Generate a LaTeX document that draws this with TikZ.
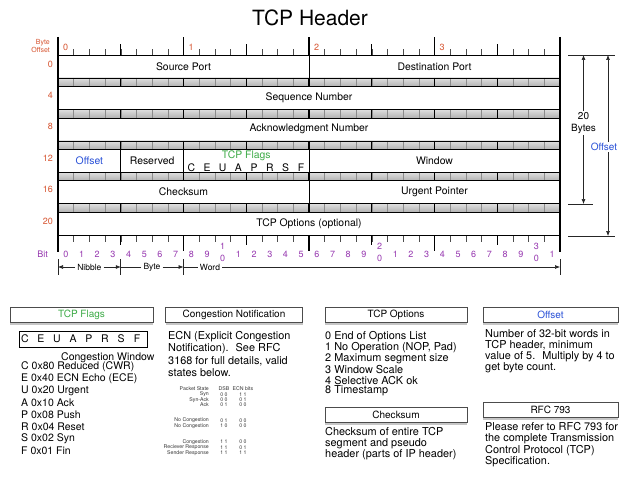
\documentclass[tikz,border=0pt]{standalone}
\usepackage{fontspec}
\setmainfont{TeX Gyre Heros}
\setsansfont{TeX Gyre Heros}
\usetikzlibrary{arrows.meta, positioning, shadows}

\definecolor{rojooffset}{RGB}{214,84,48}
\definecolor{moradobit}{RGB}{150,55,175}
\definecolor{verdeflags}{RGB}{60,170,70}
\definecolor{azuloffset}{RGB}{40,80,215}

\begin{document}
\begin{tikzpicture}[
    x=1pt, y=-1pt,
    >={Latex[length=5pt,width=4pt]},
    font=\sffamily,
    every node/.style={font=\sffamily\fontsize{10}{12}\selectfont, inner sep=0pt},
    texto campo/.style={font=\sffamily\fontsize{10.4}{12}\selectfont},
    texto offset/.style={font=\sffamily\fontsize{9}{10}\selectfont, text=rojooffset},
    texto bit/.style={font=\sffamily\fontsize{9}{10}\selectfont, text=moradobit},
    texto pie/.style={font=\sffamily\fontsize{8.5}{10}\selectfont, fill=white, inner xsep=2pt},
    texto lista/.style={anchor=west, font=\sffamily\fontsize{10.5}{12}\selectfont},
    texto parrafo/.style={anchor=west, font=\sffamily\fontsize{10.9}{12}\selectfont},
    texto tabla/.style={font=\sffamily\fontsize{5.2}{6}\selectfont, text=black!80},
    borde grueso/.style={line width=2.6pt},
    marca nibble/.style={line width=1.4pt},
    marca byte/.style={line width=1.8pt},
    marca bit/.style={line width=0.5pt, draw=black!70},
    caja cabecera/.style={draw=black!70, fill=white, line width=0.6pt, minimum height=15pt,
        drop shadow={opacity=0.45, shadow xshift=0pt, shadow yshift=-2pt}},
    linea cota/.style={line width=0.6pt, draw=black!85},
    flecha cota/.style={line width=0.6pt, draw=black!85, ->}
]
\useasboundingbox (0,0) rectangle (620,489);

% ---- Titulo ----
\node[font=\sffamily\fontsize{21}{24}\selectfont] (titulo) at (310,18) {TCP Header};

% ---- Filas blancas ----
\foreach \r in {0,...,5} {
    \pgfmathsetmacro{\yt}{55+31.4*\r}
    \draw[line width=0.6pt] (58,\yt) rectangle (560,\yt+23);
}

% ---- Bandas grises entre filas ----
\foreach \r in {0,...,4} {
    \pgfmathsetmacro{\yb}{55+31.4*\r+23}
    \shade[top color=gray!25, bottom color=gray!60] (58,\yb) rectangle (560,\yb+8.4);
    \foreach \b in {1,...,31} \draw[marca bit, draw=black!45] ({58+15.6875*\b},\yb) -- ++(0,8.4);
    \foreach \b in {4,8,...,28} \draw[marca nibble] ({58+15.6875*\b},\yb) -- ++(0,8.4);
    \draw[line width=0.5pt] (58,\yb) -- (560,\yb);
    \draw[line width=0.5pt] (58,\yb+8.4) -- (560,\yb+8.4);
}

% ---- Regla superior ----
\foreach \b in {1,...,31} \draw[marca bit] ({58+15.6875*\b},55) -- ++(0,-6);
\foreach \b in {4,12,20,28} \draw[marca nibble] ({58+15.6875*\b},55) -- ++(0,-11);
\foreach \b in {8,16,24} \draw[marca byte] ({58+15.6875*\b},55) -- ++(0,-18);
\foreach \k in {0,...,3} \node[texto offset, anchor=west] (byte\k) at ({58+125.5*\k+5},47) {\k};

% ---- Regla inferior ----
\foreach \b in {1,...,31} \draw[marca bit] ({58+15.6875*\b},236) -- ++(0,6);
\foreach \b in {4,12,20,28} \draw[marca nibble] ({58+15.6875*\b},236) -- ++(0,9);
\foreach \b in {8,16,24} \draw[marca byte] ({58+15.6875*\b},236) -- ++(0,15);

% ---- Bordes ----
\draw[borde grueso] (58,37) -- (58,252);
\draw[borde grueso] (560,37) -- (560,252);

% ---- Byte offset ----
\node[texto offset, font=\sffamily\fontsize{7}{8.5}\selectfont, align=right, anchor=east] (byteoffset) at (50,46) {Byte\\Offset};
\foreach \r/\v in {0/0,1/4,2/8,3/12,4/16,5/20}
    \node[texto offset, anchor=east] (off\v) at (53,{55+31.4*\r+9}) {\v};

% ---- Divisiones de campos ----
\draw[line width=0.6pt] (309,55) -- (309,78);
\draw[line width=0.6pt] (120.75,149.2) -- (120.75,172.2);
\draw[line width=0.6pt] (183.5,149.2) -- (183.5,172.2);
\draw[line width=0.6pt] (309,149.2) -- (309,172.2);
\draw[line width=0.6pt] (309,180.6) -- (309,203.6);

% ---- Campos ----
\node[texto campo] (srcport) at (183.5,66.5) {Source Port};
\node[texto campo] (dstport) at (434.5,66.5) {Destination Port};
\node[texto campo] (seqnum) at (309,97.9) {Sequence Number};
\node[texto campo] (acknum) at (309,129.3) {Acknowledgment Number};
\node[texto campo, text=azuloffset] (offcampo) at (89.4,160.7) {Offset};
\node[texto campo] (reservado) at (152.1,160.7) {Reserved};
\node[texto campo, text=verdeflags] (flagstit) at (246.25,155.5) {TCP Flags};
\foreach \l [count=\i from 8] in {C,E,U,A,P,R,S,F}
    \node[texto campo] (bitflag\l) at ({58+15.6875*(\i+0.5)},167.5) {\l};
\node[texto campo] (ventana) at (434.5,160.7) {Window};
\node[texto campo] (checksum) at (183.5,192.1) {Checksum};
\node[texto campo] (urgente) at (434.5,192.1) {Urgent Pointer};
\node[texto campo] (opciones) at (309,223.5) {TCP Options (optional)};

% ---- Numeros de bit ----
\node[texto bit, anchor=east] (bitlab) at (48,254) {Bit};
\foreach \b in {0,...,31} {
    \pgfmathtruncatemacro{\u}{mod(\b,10)}
    \ifnum\u=0
        \ifnum\b=0 \node[texto bit] (bit\b) at ({58+15.6875*(\b+0.5)},254) {0};\fi
    \else
        \node[texto bit] (bit\b) at ({58+15.6875*(\b+0.5)},254) {\u};
    \fi
}
\foreach \b/\d in {10/1,20/2,30/3} {
    \node[texto bit] (bitd\b) at ({58+15.6875*(\b+0.5)},246) {\d};
    \node[texto bit] (bitu\b) at ({58+15.6875*(\b+0.5)},258.5) {0};
}

% ---- Nibble / Byte / Word ----
\coordinate (n0) at (58,267);
\coordinate (n1) at (120.75,267);
\coordinate (n2) at (183.5,267);
\coordinate (n3) at (560,267);
\foreach \c in {n0,n1,n2,n3} \draw[linea cota] (\c) ++(0,-8) -- ++(0,16);
\node[texto pie] (nibble) at (89.4,267) {Nibble};
\node[texto pie] (byte) at (152,267) {Byte};
\node[texto pie] (word) at (210,267) {Word};
\draw[flecha cota] (nibble) -- (n0);
\draw[flecha cota] (nibble) -- (n1);
\draw[linea cota] (byte) -- (n1);
\draw[flecha cota] (byte) -- (n2);
\draw[linea cota] (word) -- (n2);
\draw[flecha cota] (word) -- (n3);

% ---- Cotas de la derecha ----
\draw[linea cota] (568,55) -- (615,55);
\draw[linea cota] (568,204) -- (593,204);
\draw[linea cota] (568,236) -- (615,236);
\coordinate (asup) at (583.5,55);
\coordinate (ainf) at (583.5,204);
\coordinate (bsup) at (608,55);
\coordinate (binf) at (608,236);
\node[fill=white, align=center, inner sep=1pt] (veinte) at (583.5,123) {20\\Bytes};
\draw[flecha cota] (veinte) -- (asup);
\draw[flecha cota] (veinte) -- (ainf);
\node[fill=white, text=azuloffset, inner sep=1pt] (offcota) at (604,147) {Offset};
\draw[flecha cota] (offcota.north -| bsup) -- (bsup);
\draw[flecha cota] (offcota.south -| binf) -- (binf);

% ---- Cajas de cabecera inferiores ----
\node[caja cabecera, minimum width=143pt, text=verdeflags] (cabflags) at (81.5,315) {TCP Flags};
\node[caja cabecera, minimum width=137pt] (cabecn) at (234,315) {Congestion Notification};
\node[caja cabecera, minimum width=142pt] (cabopt) at (396,315) {TCP Options};
\node[caja cabecera, minimum width=135pt, text=azuloffset] (caboff) at (550.5,315) {Offset};
\node[caja cabecera, minimum width=142pt] (cabcheck) at (396,415) {Checksum};
\node[caja cabecera, minimum width=135pt] (cabrfc) at (550.5,410) {RFC 793};

% ---- TCP Flags ----
\node[draw, line width=0.9pt, minimum width=128pt, minimum height=16pt] (cajaletras) at (83,339) {};
\foreach \l [count=\i from 0] in {C,E,U,A,P,R,S,F}
    \node[font=\sffamily\fontsize{10.5}{12}\selectfont] (letra\i) at (25+16*\i,339) {\l};
\node[texto lista] (congwin) at (61,358) {Congestion Window};
\foreach \t [count=\i from 0] in {C 0x80 Reduced (CWR), E 0x40 ECN Echo (ECE), U 0x20 Urgent, A 0x10 Ack,
        P 0x08 Push, R 0x04 Reset, S 0x02 Syn, F 0x01 Fin}
    \node[texto lista] (flag\i) at (21,{367+11.94*\i}) {\t};

% ---- Congestion Notification ----
\foreach \t [count=\i from 0] in {ECN (Explicit Congestion, Notification).~ See RFC,
        {3168 for full details, valid}, states below.}
    \node[texto parrafo] (ecn\i) at (168,{337+12*\i}) {\t};
\foreach \y/\e/\d/\n [count=\i] in {389/Packet State/DSB/ECN bits, 394.5/Syn/0 0/1 1,
        399.7/Syn-Ack/0 0/0 1, 404.9/Ack/0 1/0 0, 420.6/No Congestion/0 1/0 0,
        425.9/No Congestion/1 0/0 0, 442/Congestion/1 1/0 0,
        447.4/Reciever Response/1 1/0 1, 452.8/Sender Response/1 1/1 1} {
    \node[texto tabla, anchor=east] (estado\i) at (209,\y) {\e};
    \node[texto tabla] (dsb\i) at (224,\y) {\d};
    \node[texto tabla] (ecnbits\i) at (243,\y) {\n};
}

% ---- TCP Options ----
\foreach \t [count=\i from 0] in {0 End of Options List, {1 No Operation (NOP, Pad)},
        2 Maximum segment size, 3 Window Scale, 4 Selective ACK ok, 8 Timestamp}
    \node[texto parrafo] (opt\i) at (325,{337+10.8*\i}) {\t};

% ---- Checksum ----
\foreach \t [count=\i from 0] in {Checksum of entire TCP, segment and pseudo, header (parts of IP header)}
    \node[texto parrafo] (chk\i) at (325,{432+11.5*\i}) {\t};

% ---- Offset ----
\foreach \t [count=\i from 0] in {Number of 32-bit words in, {TCP header, minimum},
        value of 5.~ Multiply by 4 to, get byte count.}
    \node[texto parrafo] (offt\i) at (485,{334+11.4*\i}) {\t};

% ---- RFC 793 ----
\foreach \t [count=\i from 0] in {Please refer to RFC 793 for, the complete Transmission,
        Control Protocol (TCP), Specification.}
    \node[texto parrafo] (rfc\i) at (485,{427+11.6*\i}) {\t};

\end{tikzpicture}
\end{document}
